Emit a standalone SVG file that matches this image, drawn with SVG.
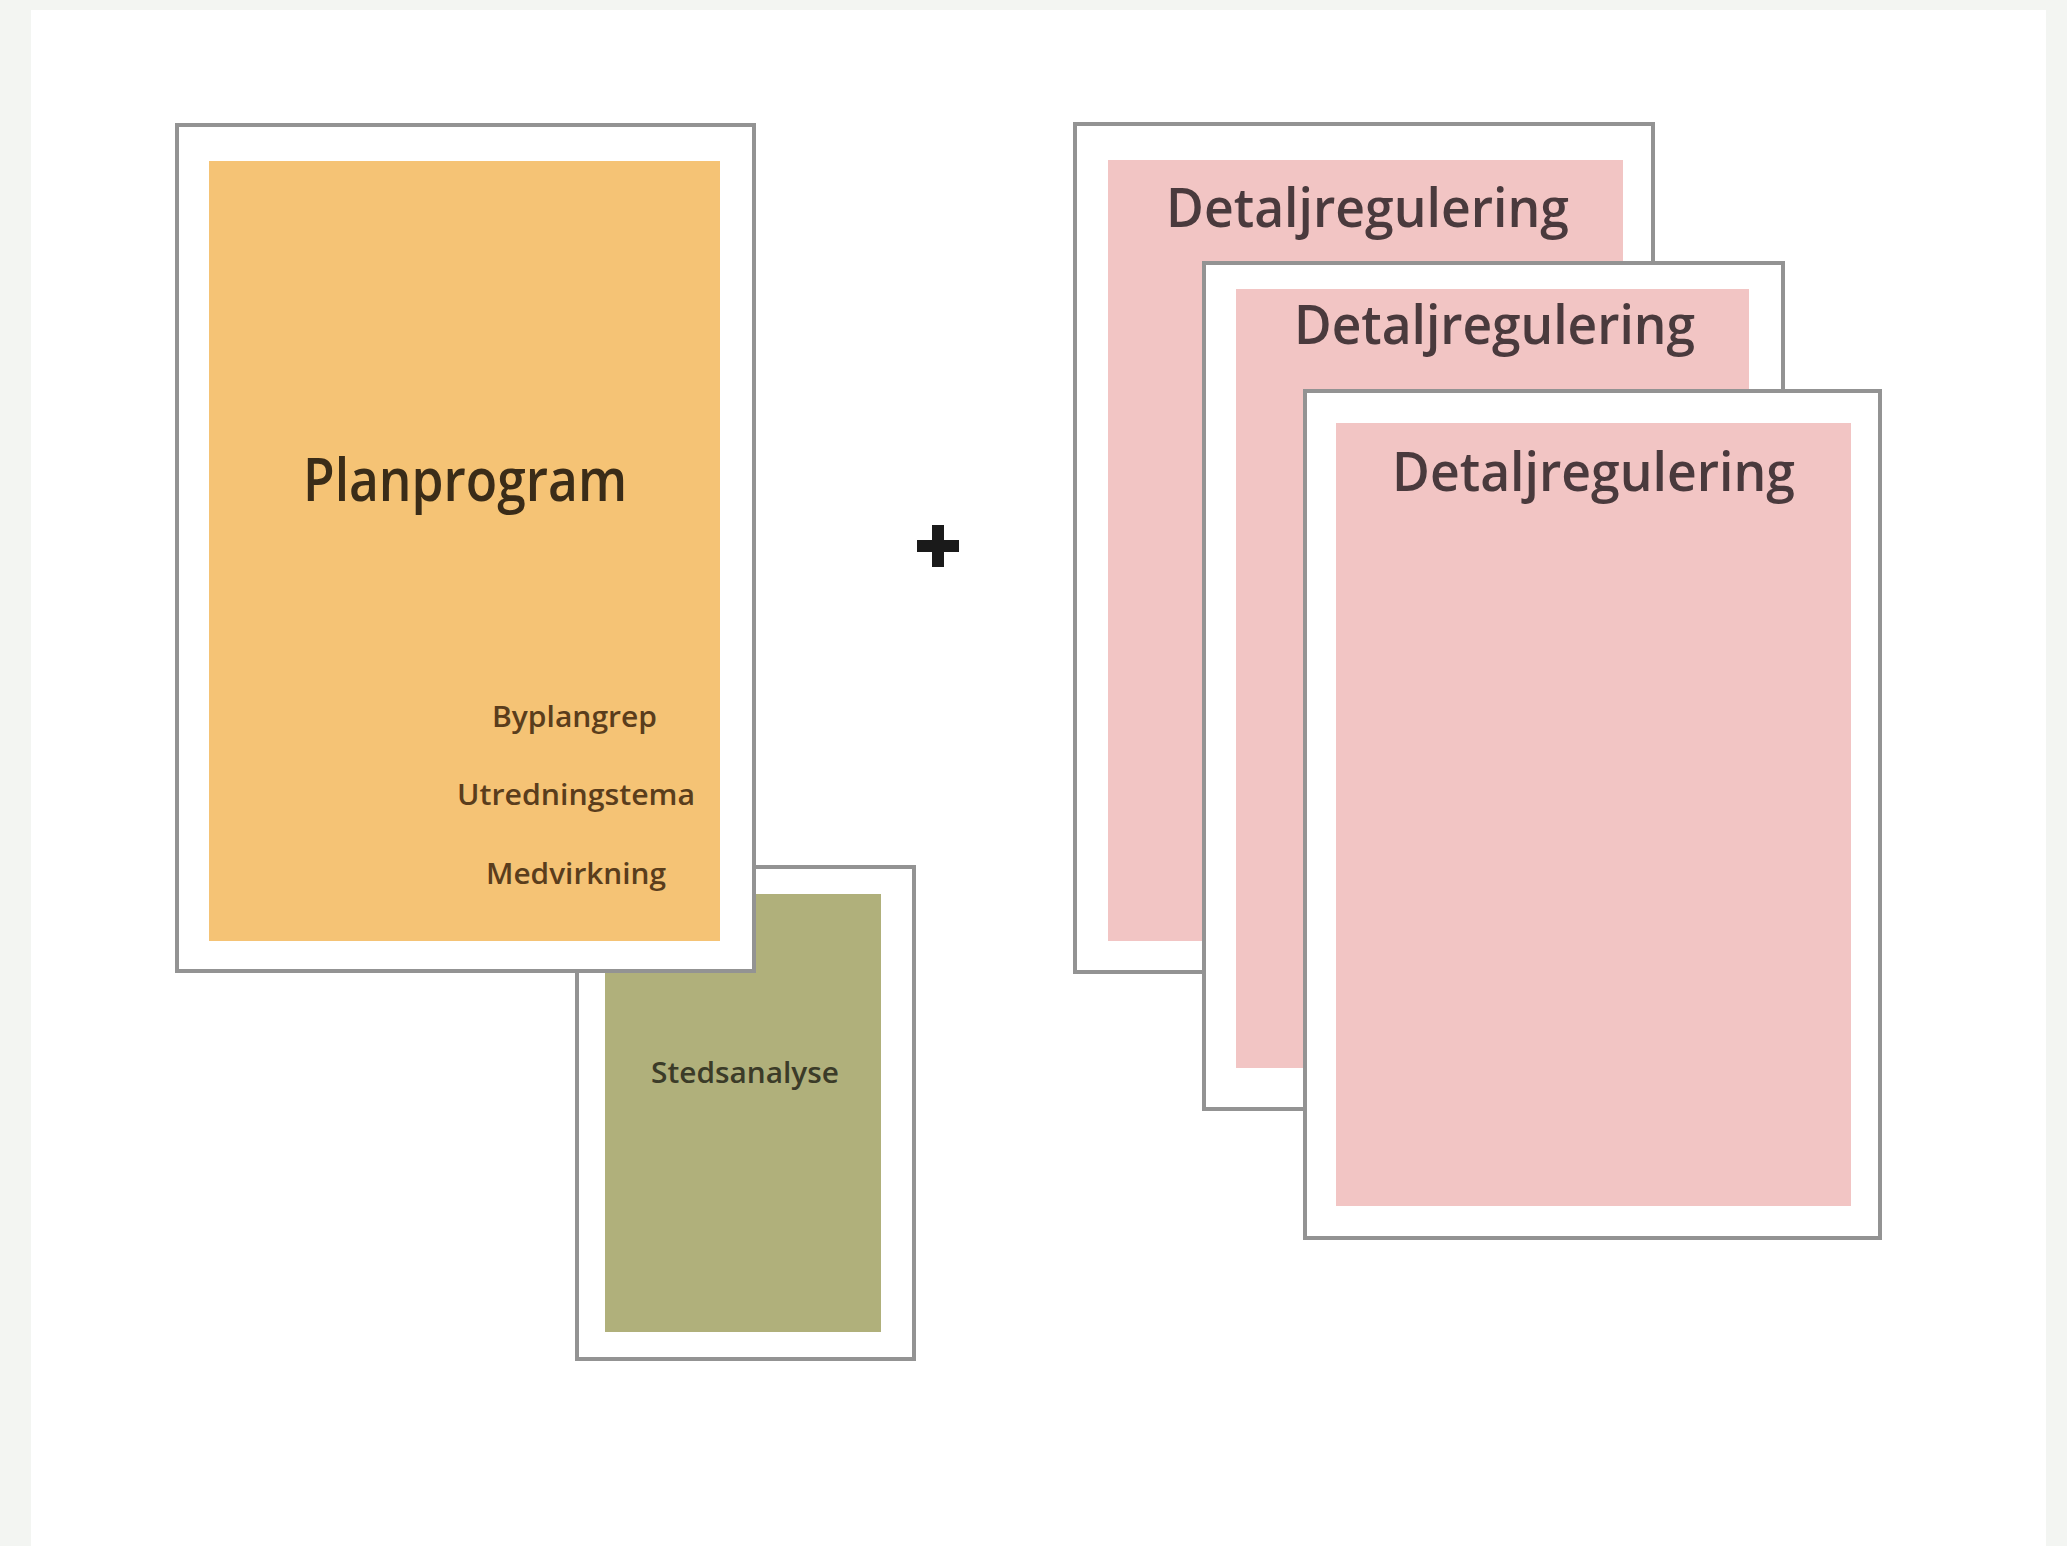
<svg xmlns="http://www.w3.org/2000/svg" width="2067" height="1546" viewBox="0 0 2067 1546">
  <style>
    .frame { fill: #ffffff; stroke: #939393; stroke-width: 4; }
    .big { font-family: "Open Sans", "Liberation Sans", sans-serif; font-weight: 600; text-anchor: start; }
    .small { font-family: "Open Sans", "Liberation Sans", sans-serif; font-weight: 600; font-size: 29px; }
  </style>
  <rect x="0" y="0" width="2067" height="1546" fill="#f3f5f2"/>
  <rect x="31" y="10" width="2015" height="1536" fill="#ffffff"/>

  <g id="stedsanalyse">
    <rect class="frame" x="577" y="867" width="337" height="492"/>
    <rect x="605" y="894" width="276" height="438" fill="#b0b07b"/>
    <text class="small" x="651" y="1083" textLength="188" lengthAdjust="spacingAndGlyphs" fill="#3b3b28">Stedsanalyse</text>
  </g>

  <g id="planprogram">
    <rect class="frame" x="177" y="125" width="577" height="846"/>
    <rect x="209" y="161" width="511" height="780" fill="#f5c375"/>
    <text class="big" x="303" y="501" font-size="60" textLength="324" lengthAdjust="spacingAndGlyphs" fill="#3a2c18">Planprogram</text>
    <text class="small" x="492" y="727" textLength="165" lengthAdjust="spacingAndGlyphs" fill="#5a3d1c">Byplangrep</text>
    <text class="small" x="457" y="805" textLength="238" lengthAdjust="spacingAndGlyphs" fill="#5a3d1c">Utredningstema</text>
    <text class="small" x="486" y="884" textLength="180" lengthAdjust="spacingAndGlyphs" fill="#5a3d1c">Medvirkning</text>
  </g>

  <g id="plus">
    <rect x="917" y="540" width="42" height="12" fill="#1a1a1a"/>
    <rect x="932" y="525" width="12" height="42" fill="#1a1a1a"/>
  </g>

  <g id="detaljregulering-1">
    <rect class="frame" x="1075" y="124" width="578" height="848"/>
    <rect x="1108" y="160" width="515" height="781" fill="#f2c5c4"/>
    <text class="big" x="1166" y="227" font-size="54" textLength="403" lengthAdjust="spacingAndGlyphs" fill="#4a3a3d">Detaljregulering</text>
  </g>

  <g id="detaljregulering-2">
    <rect class="frame" x="1204" y="263" width="579" height="846"/>
    <rect x="1236" y="289" width="513" height="779" fill="#f2c5c4"/>
    <text class="big" x="1294" y="344" font-size="54" textLength="401" lengthAdjust="spacingAndGlyphs" fill="#4a3a3d">Detaljregulering</text>
  </g>

  <g id="detaljregulering-3">
    <rect class="frame" x="1305" y="391" width="575" height="847"/>
    <rect x="1336" y="423" width="515" height="783" fill="#f2c5c4"/>
    <text class="big" x="1392" y="491" font-size="54" textLength="403" lengthAdjust="spacingAndGlyphs" fill="#4a3a3d">Detaljregulering</text>
  </g>

  <g id="connectors"></g>
</svg>
